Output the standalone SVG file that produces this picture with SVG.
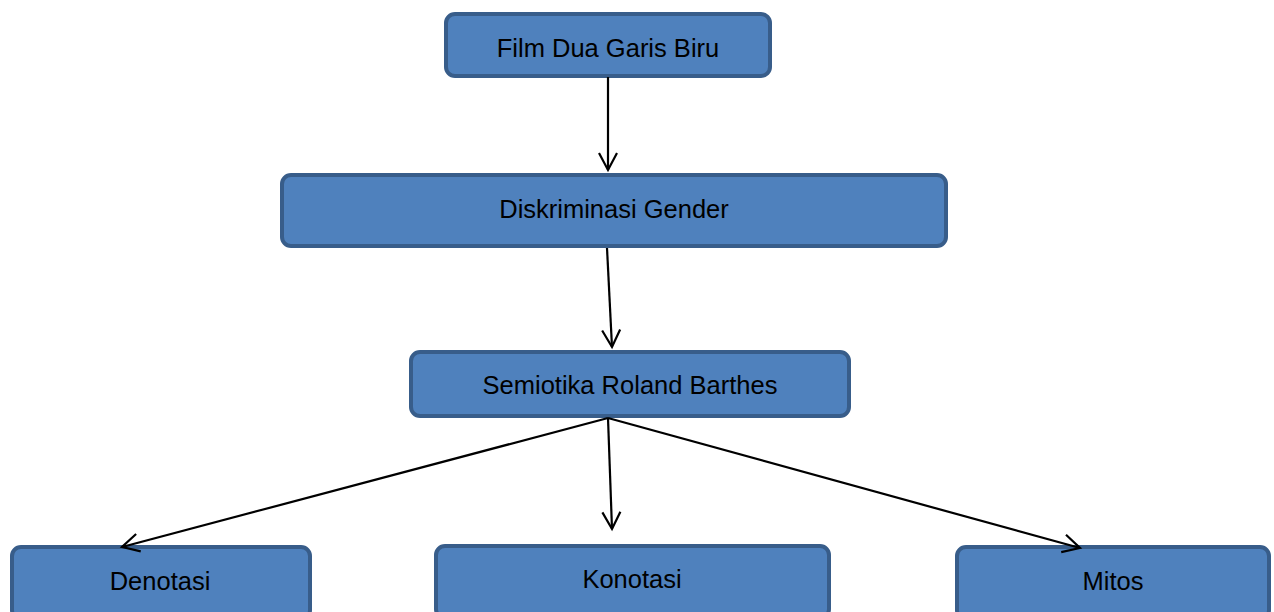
<svg xmlns="http://www.w3.org/2000/svg" width="1274" height="612" viewBox="0 0 1274 612">
<style>
.node rect{fill:#4f81bd;stroke:#385d8a;stroke-width:4}
.node text{font-family:"Liberation Sans",Arial,sans-serif;font-size:25.5px;fill:#000;text-anchor:middle}
.conn line{stroke:#000;stroke-width:2.2;marker-end:url(#arr)}
</style>
<defs>
<marker id="arr" markerUnits="userSpaceOnUse" markerWidth="24" markerHeight="24" viewBox="-20 -12 24 24" refX="0" refY="0" orient="auto">
<path d="M-17,-9 L0,0 L-17,9" fill="none" stroke="#000" stroke-width="2.2"/>
</marker>
</defs>
<rect width="1274" height="612" fill="#fff"/>
<g id="n1" class="node"><rect x="446" y="14" width="324" height="62" rx="9"/><text x="608" y="57">Film Dua Garis Biru</text></g>
<g id="n2" class="node"><rect x="282" y="175" width="664" height="71" rx="9"/><text x="614" y="218">Diskriminasi Gender</text></g>
<g id="n3" class="node"><rect x="411" y="352" width="438" height="64" rx="9"/><text x="630" y="394">Semiotika Roland Barthes</text></g>
<g id="n4" class="node"><rect x="12" y="547" width="298" height="72" rx="9"/><text x="160" y="590">Denotasi</text></g>
<g id="n5" class="node"><rect x="436" y="546" width="393" height="72" rx="9"/><text x="632" y="588">Konotasi</text></g>
<g id="n6" class="node"><rect x="957" y="547" width="312" height="72" rx="9"/><text x="1113" y="590">Mitos</text></g>
<g class="conn">
<line x1="608" y1="77" x2="608" y2="170"/>
<line x1="607" y1="248" x2="612" y2="347"/>
<line x1="608" y1="418" x2="122" y2="547"/>
<line x1="608" y1="418" x2="612" y2="529"/>
<line x1="608" y1="418" x2="1080" y2="548"/>
</g>
</svg>
